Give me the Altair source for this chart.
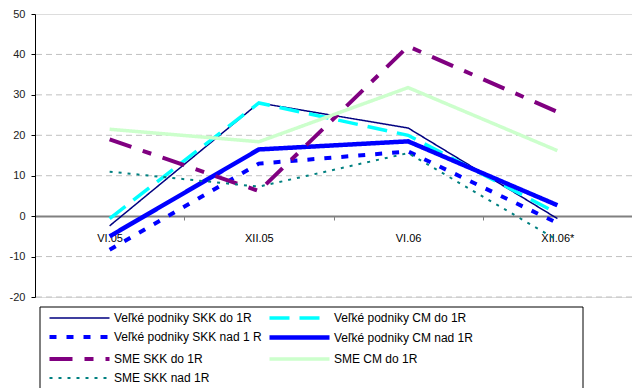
import altair as alt
import pandas as pd

categories = ["VI.05", "XII.05", "VI.06", "XII.06*"]
series_names = [
    "Veľké podniky SKK do 1R",
    "Veľké podniky CM do 1R",
    "Veľké podniky SKK nad 1 R",
    "Veľké podniky CM nad 1R",
    "SME SKK do 1R",
    "SME CM do 1R",
    "SME SKK nad 1R",
]
vp_skk_do = [-2.4, 28.0, 21.8, -0.6]
vp_cm_do = [-0.6, 28.0, 20.0, 0.7]
vp_skk_nad = [-8.3, 13.0, 16.0, -1.7]
vp_cm_nad = [-5.0, 16.5, 18.5, 2.7]
sme_skk_do = [19.0, 6.2, 42.0, 25.8]
sme_cm_do = [21.5, 18.4, 31.8, 16.2]
sme_skk_nad = [11.0, 7.3, 15.6, -5.9]
grid_values = [-20, -10, 10, 20, 30, 40]

all_series = [vp_skk_do, vp_cm_do, vp_skk_nad, vp_cm_nad, sme_skk_do, sme_cm_do, sme_skk_nad]
rows = []
for name, vals in zip(series_names, all_series):
    for c, v in zip(categories, vals):
        rows.append({"series": name, "period": c, "value": v})
df = pd.DataFrame(rows)

colors = ["#000080", "#00FFFF", "#0000FF", "#0000FF", "#800080", "#CCFFCC", "#008080"]
widths = [1.5, 3.5, 4, 4.5, 4, 3.5, 2]
dashes = [[1, 0], [20, 10], [7, 10], [1, 0], [23, 12, 9, 12], [1, 0], [3, 6]]

# legend fills column by column: reorder so rows read as in the original
legend_order = [0, 2, 4, 6, 1, 3, 5]
dom = [series_names[i] for i in legend_order]
col_r = [colors[i] for i in legend_order]
wid_r = [widths[i] for i in legend_order]
dash_r = [dashes[i] for i in legend_order]

FONT = "Liberation Sans"

legend = alt.Legend(
    title=None,
    orient="none",
    legendX=12,
    legendY=292,
    columns=2,
    symbolType="M-1,0H5.0",
    symbolSize=400,
    labelFont=FONT,
    labelFontSize=12,
    labelColor="black",
    labelOffset=42,
    rowPadding=0,
    columnPadding=-2,
    padding=0,
    labelLimit=300,
)

y_scale = alt.Scale(domain=[-20, 50], nice=False, zero=False)
y_axis = alt.Axis(
    title=None,
    values=[-20, -10, 0, 10, 20, 30, 40, 50],
    grid=False,
    domainColor="black",
    tickColor="black",
    tickSize=4,
    labelFont=FONT,
    labelFontSize=11,
    labelColor="#222222",
    labelPadding=6,
    labelExpr="replace(datum.label, '\u2212', '-')",
)

grid = alt.Chart(pd.DataFrame({"g": grid_values})).mark_rule(
    color="#C0C0C0", strokeWidth=1, strokeDash=[6, 4]
).encode(y=alt.Y("g:Q", scale=y_scale, axis=y_axis))

lines = alt.Chart(df).mark_line(strokeCap="butt", strokeJoin="miter").encode(
    x=alt.X(
        "period:N",
        sort=categories,
        bandPosition=0.5,
        scale=alt.Scale(type="band", paddingInner=0, paddingOuter=0),
        axis=alt.Axis(
            title=None,
            orient="bottom",
            offset=-81,
            tickBand="extent",
            domainColor="#808080",
            domainWidth=2,
            tickColor="#808080",
            tickSize=4,
            labelAngle=0,
            labelFont=FONT,
            labelFontSize=11,
            labelColor="black",
            labelPadding=12,
        ),
    ),
    y=alt.Y("value:Q", scale=y_scale, axis=y_axis),
    color=alt.Color("series:N", scale=alt.Scale(domain=dom, range=col_r), legend=legend),
    strokeWidth=alt.StrokeWidth("series:N", scale=alt.Scale(type="ordinal", domain=dom, range=wid_r), legend=legend),
    strokeDash=alt.StrokeDash("series:N", scale=alt.Scale(domain=dom, range=dash_r), legend=legend),
)

box = alt.Chart(pd.DataFrame({"a": [0]})).mark_rect(
    fillOpacity=0, stroke="black", strokeWidth=1
).encode(x=alt.value(5), x2=alt.value(548), y=alt.value(293), y2=alt.value(400))

chart = alt.layer(grid, lines, box).properties(
    width=597,
    height=283,
    autosize=alt.AutoSizeParams(type="none"),
    padding={"left": 35, "top": 14, "right": 0, "bottom": 91},
).configure_view(strokeWidth=0, stroke="transparent").configure(background="white")

chart.save("out.html", embed_options={"renderer": "svg", "actions": False})
